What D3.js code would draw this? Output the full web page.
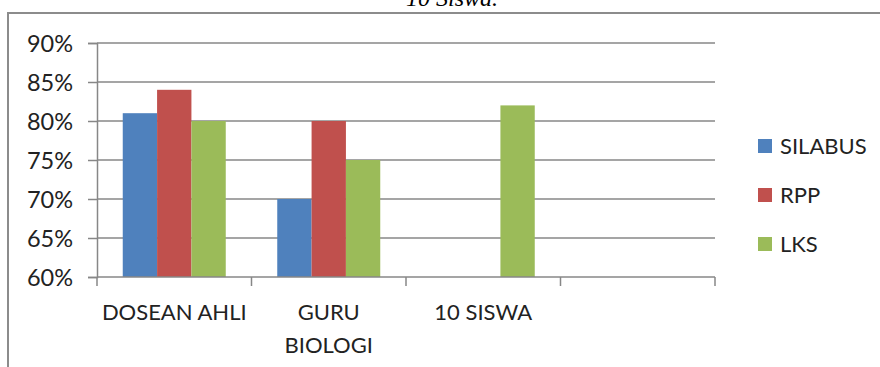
<!DOCTYPE html>
<html>
<head>
<meta charset="utf-8">
<script src="https://cdn.jsdelivr.net/npm/d3@7"></script>
<style>
  html, body { margin: 0; padding: 0; background: #fff; }
  svg { display: block; }
  text { font-family: "Lato", "Open Sans", sans-serif; fill: #222; }
</style>
</head>
<body>
<svg id="chart" width="880" height="367"></svg>
<script>
// ---- data ----
const categories = ["DOSEAN AHLI", "GURU BIOLOGI", "10 SISWA", "EMPTY"];
const categoryLabels = [["DOSEAN AHLI"], ["GURU", "BIOLOGI"], ["10 SISWA"], [""]];
const seriesNames = ["SILABUS", "RPP", "LKS"];
const silabus = [0.81, 0.70, null, null];
const rpp     = [0.84, 0.80, null, null];
const lks     = [0.80, 0.75, 0.82, null];
const yTicks  = [0.60, 0.65, 0.70, 0.75, 0.80, 0.85, 0.90];
const colors  = ["#4F81BD", "#C0504D", "#9BBB59"];
const titleText = "10 Siswa.";

const seriesValues = [silabus, rpp, lks];

const svg = d3.select("#chart");
const W = 880, H = 367;
const plot = { left: 97, right: 715, top: 43, bottom: 277 };
const gridColor = "#878787";

// title (cut off at top in reference)
svg.append("text")
  .attr("x", 452).attr("y", 6)
  .attr("text-anchor", "middle")
  .style("font-family", "'Liberation Serif', 'DejaVu Serif', serif")
  .style("font-style", "italic")
  .style("font-size", "24px")
  .style("fill", "#000")
  .text(titleText);

// outer chart border (extends beyond the picture)
svg.append("path")
  .attr("d", `M8,${H + 10} L8,13 L${W + 10},13`)
  .attr("fill", "none")
  .attr("stroke", "#8c8c8c")
  .attr("stroke-width", 2);

// scales
const x0 = d3.scaleBand().domain(categories).range([plot.left, plot.right]).paddingInner(0).paddingOuter(0);
const x1 = d3.scaleBand().domain(seriesNames).range([0, x0.bandwidth()]).paddingInner(0).paddingOuter(0.75);
const y = d3.scaleLinear().domain([0.60, 0.90]).range([plot.bottom, plot.top]);

// gridlines + y ticks
const yAxis = d3.axisLeft(y)
  .tickValues(yTicks)
  .tickFormat(d3.format(".0%"))
  .tickSize(9)
  .tickPadding(15);
const gy = svg.append("g").attr("transform", `translate(${plot.left},0)`).call(yAxis);
gy.select(".domain").attr("stroke", gridColor).attr("stroke-width", 1.5);
gy.selectAll(".tick line").attr("stroke", gridColor).attr("stroke-width", 1.5);
gy.selectAll(".tick text")
  .style("font-family", "Lato, 'Open Sans', sans-serif")
  .style("font-size", "23.5px")
  .style("fill", "#222")
  .attr("dy", "0.35em");

svg.append("g").selectAll("line")
  .data(yTicks.filter(d => d > 0.60))
  .join("line")
  .attr("x1", plot.left).attr("x2", plot.right)
  .attr("y1", d => y(d)).attr("y2", d => y(d))
  .attr("stroke", gridColor).attr("stroke-width", 1.5);

// bars
const barData = [];
categories.forEach((c, i) => {
  seriesNames.forEach((s, j) => {
    const v = seriesValues[j][i];
    if (v != null) barData.push({ c, s, v, j });
  });
});
svg.append("g").selectAll("rect")
  .data(barData)
  .join("rect")
  .attr("x", d => x0(d.c) + x1(d.s))
  .attr("width", x1.bandwidth())
  .attr("y", d => y(d.v))
  .attr("height", d => y(0.60) - y(d.v))
  .attr("fill", d => colors[d.j]);

// x axis line and category-boundary ticks
svg.append("line")
  .attr("x1", plot.left).attr("x2", plot.right)
  .attr("y1", y(0.60)).attr("y2", y(0.60))
  .attr("stroke", gridColor).attr("stroke-width", 1.5);
const boundaries = categories.map(c => x0(c)).concat([x0.range()[1]]);
svg.append("g").selectAll("line")
  .data(boundaries)
  .join("line")
  .attr("x1", d => d).attr("x2", d => d)
  .attr("y1", y(0.60)).attr("y2", y(0.60) + 9)
  .attr("stroke", gridColor).attr("stroke-width", 1.5);

// x labels
const xl = svg.append("g").selectAll("text")
  .data(categories.map((c, i) => ({ c, lines: categoryLabels[i] })))
  .join("text")
  .attr("text-anchor", "middle")
  .style("font-size", "22px");
xl.each(function(d) {
  const t = d3.select(this);
  d.lines.forEach((ln, k) => {
    t.append("tspan")
      .attr("x", x0(d.c) + x0.bandwidth() / 2)
      .attr("y", 320 + k * 33)
      .text(ln);
  });
});

// legend
const lg = svg.append("g").selectAll("g")
  .data(seriesNames)
  .join("g")
  .attr("transform", (d, i) => `translate(758,${146 + i * 49})`);
lg.append("rect")
  .attr("x", 0).attr("y", -7).attr("width", 14).attr("height", 14)
  .attr("fill", (d, i) => colors[i]);
lg.append("text")
  .attr("x", 22).attr("y", 0).attr("dy", "0.35em")
  .style("font-size", "22px")
  .text(d => d);
</script>
</body>
</html>
